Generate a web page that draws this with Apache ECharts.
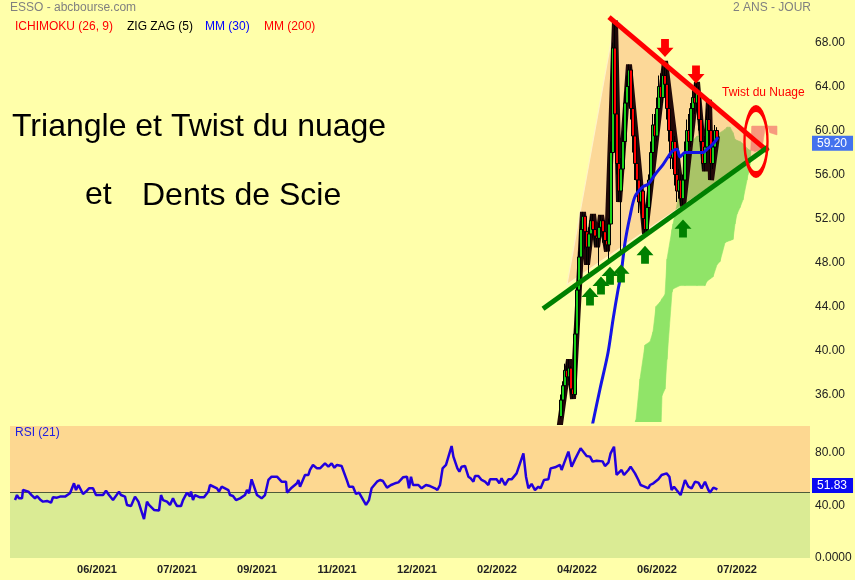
<!DOCTYPE html>
<html><head><meta charset="utf-8">
<script src="https://cdn.jsdelivr.net/npm/echarts@6/dist/echarts.min.js"></script>
<style>html,body{margin:0;padding:0;background:#FFFFAA;}#c{width:855px;height:580px;}</style>
</head><body><div id="c"></div>
<script>
// ---- data (x = trading-day index, 0..399) ----
const tickPos = [43, 83, 123, 163, 203, 243, 283, 323, 363];
const tickLabels = ['06/2021','07/2021','09/2021','11/2021','12/2021','02/2022','04/2022','06/2022','07/2022'];
const priceTicks = [36, 40, 44, 48, 52, 56, 60, 64, 68];
const rsiTicks = [0, 40, 80];

const candleStart = 275;
// [open, close, low, high]
const candles = [
 [34.0,35.5,33.8,36.0],[35.5,36.8,35.0,37.2],[36.8,38.2,36.5,38.8],
 [38.2,37.6,37.0,39.0],[37.6,38.4,37.2,39.2],[38.4,36.5,36.0,38.6],[36.5,36.0,35.6,37.0],[36.0,41.5,35.8,42.0],
 [41.5,45.5,41.0,46.0],[45.5,48.5,45.0,49.0],[48.5,51.0,48.0,51.8],[51.0,52.2,49.5,52.6],[52.2,50.8,49.2,52.4],
 [50.8,49.4,47.8,51.0],[49.4,50.6,47.0,51.2],[50.6,51.8,49.8,52.2],[51.8,51.0,50.2,52.4],[51.0,50.4,49.6,51.6],
 [50.4,50.2,49.4,51.0],[50.2,51.2,47.7,51.6],[51.2,51.8,50.6,52.3],[51.8,50.8,49.8,52.0],[50.8,50.0,49.2,51.2],
 [50.0,49.6,49.0,50.6],[49.6,51.5,48.3,52.0],[51.5,58.0,51.0,59.0],[58.0,67.5,57.5,68.0],[67.5,61.5,60.5,70.0],
 [61.5,57.0,56.0,62.5],[57.0,54.5,53.5,58.0],[54.5,56.5,49.0,57.5],[56.5,59.0,55.5,60.0],[59.0,62.5,58.5,63.5],
 [62.5,64.0,61.5,65.0],[64.0,65.5,62.5,66.0],[65.5,62.0,61.0,65.8],[62.0,59.5,58.0,63.0],[59.5,57.0,55.5,60.5],
 [57.0,55.5,54.0,58.0],[55.5,53.5,52.5,56.5],[53.5,54.5,52.8,55.5],[54.5,52.0,51.0,55.0],[52.0,51.0,50.6,53.0],
 [51.0,53.0,50.5,53.5],[53.0,55.5,52.0,56.0],[55.5,58.0,55.0,59.0],[58.0,60.5,57.0,61.5],[60.5,59.5,58.5,61.5],
 [59.5,62.0,59.0,63.0],[62.0,64.0,61.5,65.0],[64.0,63.0,62.0,65.2],[63.0,65.0,62.5,65.8],[65.0,64.2,63.0,66.3],
 [64.2,62.0,61.0,65.5],[62.0,60.0,59.0,62.5],[60.0,57.5,56.5,61.0],[57.5,59.0,56.5,60.0],[59.0,56.0,55.0,59.5],
 [56.0,54.5,53.5,57.0],[54.5,55.5,53.8,56.5],[55.5,53.8,53.2,56.0],[53.8,55.5,53.1,56.0],[55.5,58.0,55.0,59.0],
 [58.0,60.0,57.0,61.0],[60.0,59.0,58.0,61.5],[59.0,62.0,58.5,62.5],[62.0,63.0,61.0,63.8],[63.0,62.5,61.5,64.3],
 [62.5,63.5,61.8,64.4],[63.5,61.0,60.0,64.0],[61.0,59.0,58.0,62.0],[59.0,57.0,56.5,60.0],[57.0,58.5,56.3,59.5],
 [58.5,61.0,58.0,62.0],[61.0,60.0,59.0,62.8],[60.0,57.0,55.5,60.5],[57.0,58.5,56.5,59.5],[58.5,60.0,58.0,60.5],
 [60.0,59.2,58.5,60.3]
];

const zigzag = [[272,30.0],[279,39.2],[281,35.6],[286,52.6],[288,47.8],[291,52.4],[293,49.4],[295,52.3],[298,49.0],
 [302,70.0],[304,53.5],[309,66.0],[317,50.6],[327,66.3],[336,53.1],[343,64.4],[347,56.3],[349,62.8],[350,55.5],[353,59.5]];

const mm30 = [[286,29.0],[291,33.5],[294.5,36.5],[298.5,39.8],[301,42.8],[303.5,45.5],[305,46.9],[307,49.8],[309.5,52.2],
 [312,54.0],[316,54.9],[318.5,55.1],[322,56.0],[326,56.9],[330.5,58.1],[333,58.3],[334.5,57.6],[337,58.0],[341,58.0],
 [346,58.0],[348,58.3],[349.5,58.5],[352,59.0],[353.5,59.4]];

const cloudIdx = [311,312.5,314.5,317,319.5,321,322.5,324.5,325.5,327,328,330.5,331,334.5,337,343,347,348,349.5,351,353,
 354.5,357,358,359.5,361,362,363,364.5,366,368,368.5,369.5,370.5,372,375.5,377.5,379.5,383];
const senkouA = [33.0,33.7,37.4,40.5,40.8,41.7,44.0,44.4,44.7,45.1,48.3,51.0,51.5,54.6,58.3,59.5,59.5,59.6,59.6,59.7,59.7,
 59.8,60.1,60.3,60.3,59.8,59.2,59.1,59.0,58.8,58.4,58.3,58.2,58.2,58.1,58.3,60.8,59.8,59.6];
const senkouB = [30.0,30.0,30.0,30.0,30.0,30.0,30.0,30.0,35.9,36.5,39.2,45.3,45.6,45.9,45.9,45.9,45.9,46.3,46.5,46.7,47.8,
 48.1,49.8,49.9,50.0,50.1,51.5,52.4,53.0,53.7,55.5,56.0,56.9,60.4,60.4,60.4,60.4,60.4,60.4];

const triangle = [[278,46.0],[302,70.1],[378,58.4]];
const resistance = [[299,70.3],[378.5,58.1]];
const support = [[266,43.8],[378.5,58.5]];
const redArrows = [[327,67.5],[342.5,65.1]];
const greenArrows = [[289.5,44.9],[295,45.9],[299.5,46.8],[305,47.0],[317,48.7],[336,51.1]];
const twistMark = [[372.5,59.0]];
const lastPrice = 59.20;

const rsi = [[2,43.9],[3,47.7],[4,45.2],[5.5,45.2],[6,51.5],[7,52.8],[8.7,50.3],[10.3,47.7],[12,45.2],[13,47.0],[14.5,44.4],
 [16,42.7],[18,43.2],[20,41.9],[21,46.0],[23,45.7],[24.5,46.5],[27,46.5],[29.5,49.0],[31.5,56.6],[32.5,51.5],[33.7,55.3],
 [36,48.5],[37.5,50.3],[39,52.8],[41,52.8],[42.5,47.7],[46,47.7],[47.5,51.0],[49,47.7],[51,43.9],[54,50.3],[55,47.7],
 [57,46.5],[58,40.2],[59,41.4],[60,39.4],[62,46.5],[63.7,42.7],[65,36.4],[66.5,29.5],[68,42.7],[69,40.2],[71.5,36.4],
 [74,35.9],[75,47.7],[76,43.9],[78,42.7],[79.5,40.2],[81,45.2],[82,41.9],[83,39.4],[85,39.4],[86,43.9],[87,42.7],
 [88,49.5],[89.5,46.5],[90,50.3],[91,43.9],[92,47.7],[94.5,46.0],[96.5,46.0],[98.7,50.3],[99.5,55.3],[103,52.8],
 [104,50.3],[105.3,54.0],[108.7,51.5],[109.5,47.7],[111,47.0],[112.5,43.9],[114.5,45.2],[117,47.7],[118,51.5],
 [119,49.0],[120.3,59.6],[123,47.7],[125.3,45.2],[127,47.7],[128.7,59.1],[130.3,61.6],[133,61.6],[135.3,57.8],
 [137.5,57.8],[138,49.5],[140,52.8],[143,56.6],[143.7,59.1],[144.5,54.0],[147,62.9],[148.7,62.9],[149.5,66.7],
 [151,70.5],[153,67.9],[154.5,67.9],[157,71.7],[158.7,69.2],[160.3,71.7],[161.7,68.4],[163,70.5],[165.3,69.7],
 [168,58.6],[169,54.0],[171,54.0],[172.5,48.5],[174,49.5],[177.5,40.2],[179,43.9],[180.3,52.8],[183,57.8],
 [184.5,59.1],[186,58.3],[188,53.3],[190,55.3],[192,56.6],[193.7,57.3],[194.5,57.8],[196,61.1],[198,61.6],
 [199,52.8],[200,61.6],[201,55.3],[203.7,55.3],[205.3,52.8],
 [206.2,51.5],[207.5,55.3],[209.5,54.5],[212,52.8],[213.2,51.5],[214.5,55.3],[215.8,67.9],[217.5,70.5],[220.3,84.8],
 [221.2,76.8],[223.2,67.9],[224.2,65.4],[225.3,69.2],[227,69.7],[228.7,61.6],[229.8,60.4],[231.2,57.8],[232,62.1],
 [233.7,62.1],[235.3,59.1],[237,57.8],[238.7,55.3],[239.5,59.6],[242.8,59.6],[244.2,56.6],[245.3,60.4],[247,55.3],
 [248.7,59.6],[250.3,59.6],[252.8,64.1],[256.2,79.3],[257.5,61.6],[258.7,52.8],[260.3,56.1],[262,51.5],[263.7,54.0],
 [264.8,52.8],[266.5,59.1],[268.7,59.6],[269.8,67.9],[272,68.7],[274.5,70.5],[275.3,66.7],[276.5,71.7],[277.5,72.2],
 [278.7,80.6],[280.3,69.2],[282,74.7],[284.8,83.1],[287.8,77.3],[289.5,76.8],[290.8,73.0],[292.8,73.7],[295.8,73.2],
 [297,69.7],[298.7,72.2],[299.8,79.3],[301.5,84.3],[302.8,62.9],[303.7,62.9],[305.3,66.7],[306.5,62.9],[308.7,66.7],
 [309.8,69.2],[312,64.1],[313.7,59.1],[314.8,55.3],[316.2,54.5],[318.7,52.8],[319.5,55.3],[321.2,56.6],[323.7,59.6],
 [325.3,62.9],[327.8,64.1],[329.2,61.6],[330.3,51.5],[331.5,54.0],[332.8,51.5],[334.8,47.7],[337,59.1],[338.7,54.0],
 [340.3,52.8],[342,57.8],[343.7,57.1],[345.3,52.8],[347,57.8],[348.7,51.5],[349.5,49.5],[351.2,53.3],[353.2,52.0]];
const lastRsi = 51.83;

// ---- chart ----
const FONT = '"Liberation Sans", Arial, sans-serif';
const chart = echarts.init(document.getElementById('c'));

function clipRect(params) {
  const c = params.coordSys;
  return {type: 'rect', shape: {x: c.x, y: c.y, width: c.width, height: c.height}};
}
const GREEN_CLOUD = '#90E468', RED_CLOUD = '#F79A7E';
function cloudRender(params, api) {
  const i = params.dataIndex;
  if (i >= cloudIdx.length - 1) return null;
  const x0 = cloudIdx[i], x1 = cloudIdx[i + 1];
  const a0 = senkouA[i], a1 = senkouA[i + 1], b0 = senkouB[i], b1 = senkouB[i + 1];
  const d0 = a0 - b0, d1 = a1 - b1;
  const polys = [];
  if (d0 * d1 < 0) {
    const t = d0 / (d0 - d1);
    const xm = x0 + t * (x1 - x0), ym = a0 + t * (a1 - a0);
    polys.push({pts: [[x0, a0], [xm, ym], [x0, b0]], c: d0 >= 0 ? GREEN_CLOUD : RED_CLOUD});
    polys.push({pts: [[xm, ym], [x1, a1], [x1, b1]], c: d1 >= 0 ? GREEN_CLOUD : RED_CLOUD});
  } else {
    polys.push({pts: [[x0, a0], [x1, a1], [x1, b1], [x0, b0]], c: (d0 + d1) >= 0 ? GREEN_CLOUD : RED_CLOUD});
  }
  return {
    type: 'group',
    clipPath: clipRect(params),
    children: polys.map(p => ({
      type: 'polygon',
      shape: {points: p.pts.map(v => api.coord(v))},
      style: {fill: p.c, stroke: p.c, lineWidth: 0.6}
    }))
  };
}

const upArrow = 'path://M5,0 L10,5.2 L7.3,5.2 L7.3,10 L2.7,10 L2.7,5.2 L0,5.2 Z';
const downArrow = 'path://M2.7,0 L7.3,0 L7.3,4.8 L10,4.8 L5,10 L0,4.8 L2.7,4.8 Z';

function valueTag(value, bg, dy) {
  return {yAxis: value, lineStyle: {color: 'rgba(0,0,0,0)', width: 0},
    label: {show: true, position: 'end', distance: 2, offset: [0, dy], formatter: value.toFixed(2), color: '#ffffff',
            backgroundColor: bg, padding: [2, 6, 1, 5], fontSize: 12, fontFamily: FONT}};
}

const option = {
  backgroundColor: '#FFFFAA',
  animation: false,
  grid: [
    {left: 10, right: 45, top: 15, height: 407},
    {left: 10, right: 45, top: 426, height: 132}
  ],
  xAxis: [
    {type: 'value', gridIndex: 0, min: -0.5, max: 399.5, show: false},
    {type: 'value', gridIndex: 1, min: -0.5, max: 399.5,
     axisLine: {show: false}, axisTick: {show: false}, splitLine: {show: false},
     axisLabel: {customValues: tickPos, formatter: v => tickLabels[tickPos.indexOf(v)] || '',
                 color: '#222', fontSize: 11, fontWeight: 'bold', fontFamily: FONT, margin: 6}}
  ],
  yAxis: [
    {type: 'value', gridIndex: 0, position: 'right', min: 33.5, max: 70.5,
     axisLine: {show: false}, axisTick: {show: false}, splitLine: {show: false},
     axisLabel: {customValues: priceTicks, formatter: v => v.toFixed(2), color: '#222', fontSize: 12, fontFamily: FONT, margin: 5}},
    {type: 'value', gridIndex: 1, position: 'right', min: 0, max: 100,
     axisLine: {show: false}, axisTick: {show: false}, splitLine: {show: false},
     axisLabel: {customValues: rsiTicks, formatter: v => v === 0 ? '0.0000' : v.toFixed(2), color: '#222', fontSize: 12,
                 fontFamily: FONT, margin: 5, padding: [0, 0, 6, 0]}}
  ],
  series: [
    {type: 'custom', name: 'cloud', xAxisIndex: 0, yAxisIndex: 0, z: 1, silent: true,
     data: cloudIdx.map((x, i) => [x, senkouA[i], senkouB[i]]), encode: {x: 0, y: [1, 2]},
     renderItem: cloudRender},
    {type: 'custom', name: 'triangle', xAxisIndex: 0, yAxisIndex: 0, z: 2, silent: true,
     data: triangle, encode: {x: 0, y: 1},
     renderItem: (params, api) => {
       if (params.dataIndex !== 0) return null;
       return {type: 'polygon', shape: {points: triangle.map(v => api.coord(v))},
               style: {fill: 'rgba(243,100,98,0.25)', stroke: '#FFF3C8', lineWidth: 1.2}};
     }},
    {type: 'line', name: 'zigzag', xAxisIndex: 0, yAxisIndex: 0, z: 3, data: zigzag, symbol: 'none',
     lineStyle: {color: '#200808', width: 6}},
    {type: 'candlestick', name: 'ESSO', xAxisIndex: 0, yAxisIndex: 0, z: 4,
     dimensions: ['idx', 'open', 'close', 'lowest', 'highest'],
     data: candles.map((c, i) => [candleStart + i, c[0], c[1], c[2], c[3]]),
     encode: {x: 0, y: [1, 2, 3, 4]},
     barWidth: 3,
     itemStyle: {color: '#18D018', color0: '#FF0000', borderColor: '#000', borderColor0: '#000', borderWidth: 1}},
    {type: 'line', name: 'MM (30)', xAxisIndex: 0, yAxisIndex: 0, z: 5, data: mm30, symbol: 'none', smooth: 0.3,
     lineStyle: {color: '#1414E6', width: 3},
     markLine: {silent: true, symbol: 'none', animation: false, data: [valueTag(lastPrice, '#4372EE', 4)]}},
    {type: 'line', name: 'resistance', xAxisIndex: 0, yAxisIndex: 0, z: 6, data: resistance, symbol: 'none',
     lineStyle: {color: '#FF0000', width: 5}},
    {type: 'line', name: 'support', xAxisIndex: 0, yAxisIndex: 0, z: 6, data: support, symbol: 'none',
     lineStyle: {color: '#008000', width: 5}},
    {type: 'scatter', name: 'red arrows', xAxisIndex: 0, yAxisIndex: 0, z: 7, data: redArrows,
     symbol: downArrow, symbolSize: [17, 18], itemStyle: {color: '#FF0000', opacity: 1}},
    {type: 'scatter', name: 'green arrows', xAxisIndex: 0, yAxisIndex: 0, z: 7, data: greenArrows,
     symbol: upArrow, symbolSize: [17, 18], itemStyle: {color: '#008000', opacity: 1}},
    {type: 'scatter', name: 'twist', xAxisIndex: 0, yAxisIndex: 0, z: 8, data: twistMark,
     symbol: 'circle', symbolSize: [23, 66],
     itemStyle: {color: 'rgba(0,0,0,0)', borderColor: '#FF0000', borderWidth: 4, opacity: 1}},
    {type: 'line', name: 'RSI (21)', xAxisIndex: 1, yAxisIndex: 1, z: 5, data: rsi, symbol: 'none',
     lineStyle: {color: '#2200DD', width: 2.5},
     markArea: {silent: true, data: [
       [{yAxis: 50, itemStyle: {color: '#FDD891'}}, {yAxis: 100}],
       [{yAxis: 0, itemStyle: {color: '#DAEB94'}}, {yAxis: 50}]
     ]},
     markLine: {silent: true, symbol: 'none', animation: false, data: [
       {yAxis: 50, lineStyle: {color: '#4E5B3A', width: 1, type: 'solid'}, label: {show: false}},
       valueTag(lastRsi, '#0A0AF2', -4)
     ]}}
  ],
  graphic: [
    {type: 'text', left: 10, top: 2, style: {text: 'ESSO - abcbourse.com', fill: '#808080', font: '12px ' + FONT}},
    {type: 'text', left: 733, top: 2, style: {text: '2 ANS - JOUR', fill: '#808080', font: '12px ' + FONT}},
    {type: 'text', left: 15, top: 21, style: {text: 'ICHIMOKU (26, 9)', fill: '#FF0000', font: '12px ' + FONT}},
    {type: 'text', left: 127, top: 21, style: {text: 'ZIG ZAG (5)', fill: '#000000', font: '12px ' + FONT}},
    {type: 'text', left: 205, top: 21, style: {text: 'MM (30)', fill: '#0000FF', font: '12px ' + FONT}},
    {type: 'text', left: 264, top: 21, style: {text: 'MM (200)', fill: '#FF0000', font: '12px ' + FONT}},
    {type: 'text', left: 15, top: 427, z: 20, style: {text: 'RSI (21)', fill: '#2020E0', font: '12px ' + FONT}},
    {type: 'text', left: 12, top: 111, style: {text: 'Triangle et Twist du nuage', fill: '#000', font: '32px ' + FONT}},
    {type: 'text', left: 85, top: 179, style: {text: 'et', fill: '#000', font: '32px ' + FONT}},
    {type: 'text', left: 142, top: 180, style: {text: 'Dents de Scie', fill: '#000', font: '32px ' + FONT}},
    {type: 'text', left: 722, top: 87, z: 20, style: {text: 'Twist du Nuage', fill: '#FF0000', font: '12px ' + FONT}}
  ]
};
chart.setOption(option);
</script></body></html>
